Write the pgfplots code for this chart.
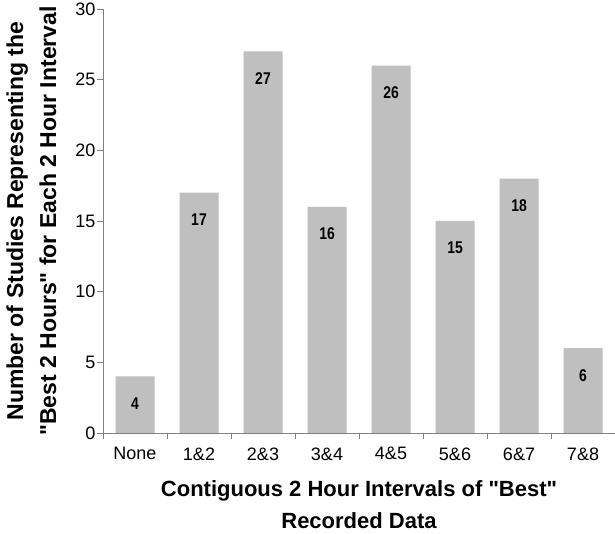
\documentclass[border=0pt]{standalone}
\usepackage{pgfplots}
\pgfplotsset{compat=1.18}
\usepackage{fontspec}
\setmainfont{Liberation Sans}
\newfontfamily\labelfont{Liberation Sans}
\newfontfamily\narrowfont[FakeStretch=0.82]{Liberation Sans}
\definecolor{barcolor}{HTML}{BFBFBF}
\definecolor{axisgray}{HTML}{808080}
\begin{document}
\begin{tikzpicture}
\useasboundingbox (0,0) rectangle (615pt,534pt);
\begin{axis}[
  at={(103pt,101pt)}, anchor=south west,
  scale only axis, width=512pt, height=424pt,
  ymin=0, ymax=30, ytick={0,5,...,30},
  xmin=-0.5, xmax=7.5,
  xtick={-0.5,0.5,...,7.5},
  x tick label as interval,
  xticklabels={None,1\&2,2\&3,3\&4,4\&5,5\&6,6\&7,7\&8},
  axis x line*=bottom, axis y line*=left,
  tick align=outside, major tick length=6pt,
  tick style={color=axisgray, line width=0.8pt},
  axis line style={color=axisgray, line width=0.8pt},
  ticklabel style={font=\labelfont\fontsize{18}{20}\selectfont},
  xticklabel style={yshift=-5pt},
  yticklabel style={xshift=2pt},
  /pgf/number format/assume math mode=true,
  ybar, bar width=39pt,
  nodes near coords,
  nodes near coords style={font=\narrowfont\bfseries\fontsize{17}{17}\selectfont, anchor=center, yshift=-27pt},
  xlabel={Contiguous 2 Hour Intervals of "Best"\\Recorded Data},
  ylabel={Number of Studies Representing the\\"Best 2 Hours" for Each 2 Hour Interval},
  xlabel style={font=\labelfont\bfseries\fontsize{22}{32}\selectfont, align=center,
    at={(axis description cs:0.5,0)}, anchor=north, yshift=-44.5pt},
  ylabel style={font=\labelfont\bfseries\fontsize{23}{33}\selectfont, align=center,
    at={(axis description cs:0,0.5)}, anchor=south, yshift=43pt},
]
\addplot[fill=barcolor, draw=none] coordinates {(0,4) (1,17) (2,27) (3,16) (4,26) (5,15) (6,18) (7,6)};
\end{axis}
\end{tikzpicture}
\end{document}
